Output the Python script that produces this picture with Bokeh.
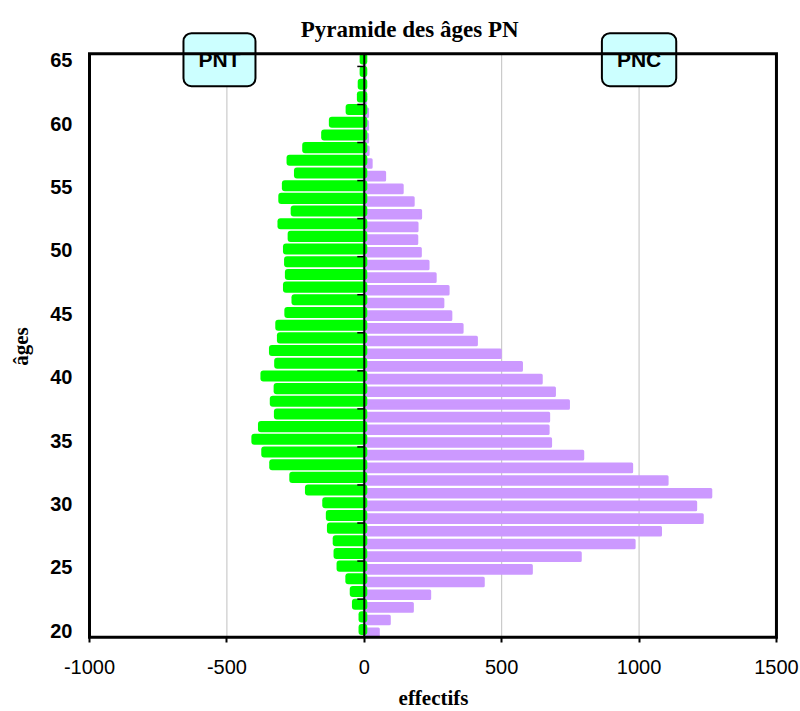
import math
from bokeh.plotting import figure
from bokeh.models import FixedTicker, Label, Range1d, ColumnDataSource, LinearAxis
from bokeh.transform import dodge
from bokeh.embed import file_html
from bokeh.resources import INLINE

# ---------------- data ----------------
ages = list(range(20, 66))
pnt = [-10, -10, -34, -42, -58, -90, -101, -104, -125, -129,
       -142, -205, -262, -335, -364, -400, -376, -318, -333, -319,
       -367, -317, -336, -307, -313, -280, -254, -285, -278, -281,
       -285, -268, -305, -257, -302, -289, -245, -272, -215, -146,
       -118, -57, -16, -13, -6, -6]
pnc = [51, 91, 175, 238, 433, 608, 786, 982, 1078, 1230,
       1206, 1261, 1102, 973, 795, 678, 669, 671, 743, 692,
       644, 572, 495, 408, 356, 315, 286, 305, 258, 232,
       204, 191, 192, 205, 178, 138, 74, 25, 14, 12,
       12, 12, 5, 3, 2, 2]
x_ticks = [-1000, -500, 0, 500, 1000, 1500]
grid_x = [-500, 500, 1000]
y_ticks = [20, 25, 30, 35, 40, 45, 50, 55, 60, 65]
mid_ticks = [22.5, 25.5, 28.5, 31.5, 34.5, 37.5, 40.5, 43.5, 46.5, 49.5,
             52.5, 55.5, 58.5, 61.5, 64.5]
x_lo, x_hi = -1000, 1500
y_lo, y_hi = 19.5, 65.5

src = ColumnDataSource(dict(age=ages, pnt=pnt, pnc=pnc))

# the frame covers the whole canvas; axes are pinned to the plot-area border
p = figure(width=800, height=711, output_backend="svg", toolbar_location=None,
           x_range=Range1d(-1323.9, 1587.5), y_range=Range1d(13.64, 69.70),
           x_axis_location=None, y_axis_location=None,
           min_border_left=0, min_border_right=0, min_border_top=0,
           min_border_bottom=0)
p.background_fill_color = "white"
p.border_fill_color = "white"
p.outline_line_color = None
p.xgrid.grid_line_color = None
p.ygrid.grid_line_color = None

# grid lines (inside plot area only)
p.segment(x0=grid_x, x1=grid_x, y0=[y_lo] * 3, y1=[y_hi] * 3,
          line_color="#C0C0C0", line_width=1)

# bars
p.hbar(y=dodge("age", -0.15, range=p.y_range), left=0, right="pnc", height=0.6,
       fill_color="#CC99FF", line_color="#CC99FF", line_width=3, line_join="round",
       source=src)
p.hbar(y=dodge("age", 0.1, range=p.y_range), left=0, right="pnt", height=0.4,
       fill_color="#00FF00", line_color="#00FF00", line_width=6, line_join="round",
       source=src)

# central axis line and its ticks
p.segment(x0=[0], x1=[0], y0=[y_lo], y1=[y_hi], line_color="black", line_width=2,
          level="overlay")
p.ray(x=[0] * len(mid_ticks), y=mid_ticks, length=7, length_units="screen",
      angle=math.pi, line_color="black", line_width=1.5, level="overlay")

# plot-area border
p.quad(left=[x_lo], right=[x_hi], bottom=[y_lo], top=[y_hi], fill_color=None,
       line_color="black", line_width=3, line_join="miter", level="overlay")

# axes
xa = LinearAxis(fixed_location=y_lo, ticker=FixedTicker(ticks=x_ticks))
xa.major_label_overrides = {t: str(t) for t in x_ticks}
xa.minor_tick_line_color = None
xa.major_tick_out = 5
xa.major_tick_in = 0
xa.major_tick_line_width = 2
xa.axis_line_color = None
xa.major_label_text_font = "Liberation Sans"
xa.major_label_text_font_size = "20px"
xa.major_label_text_color = "black"
xa.major_label_standoff = 18
p.add_layout(xa, "below")

ya = LinearAxis(fixed_location=x_lo, ticker=FixedTicker(ticks=y_ticks))
ya.minor_tick_line_color = None
ya.major_tick_out = 0
ya.major_tick_in = 0
ya.axis_line_color = None
ya.major_label_text_font = "Liberation Sans"
ya.major_label_text_font_style = "bold"
ya.major_label_text_font_size = "20px"
ya.major_label_text_color = "black"
ya.major_label_standoff = 17
p.add_layout(ya, "left")

# titles
p.add_layout(Label(x=165, y=67.45, text="Pyramide des âges PN", text_align="center",
                   text_baseline="middle", text_font="Liberation Serif",
                   text_font_style="bold", text_font_size="23px", text_color="black"))
p.add_layout(Label(x=252, y=13.74, text="effectifs", text_align="center",
                   text_baseline="bottom", text_font="Liberation Serif",
                   text_font_style="bold", text_font_size="21px", text_color="black"))
p.add_layout(Label(x=-1251, y=42.42, text="âges", angle=math.pi / 2,
                   text_align="center", text_baseline="middle",
                   text_font="Liberation Serif", text_font_style="bold",
                   text_font_size="21px", text_color="black"))

# series boxes
for xv, t in [(-527, "PNT"), (1000, "PNC")]:
    p.add_layout(Label(x=xv, y=65.03, text=t, text_align="center", text_baseline="middle",
                       text_font="Liberation Sans", text_font_style="bold",
                       text_font_size="21px", text_color="black",
                       background_fill_color="#CCFFFF", border_line_color="black",
                       border_line_width=2, border_radius=8, padding=15))

open("out.html", "w").write(file_html(p, INLINE))
